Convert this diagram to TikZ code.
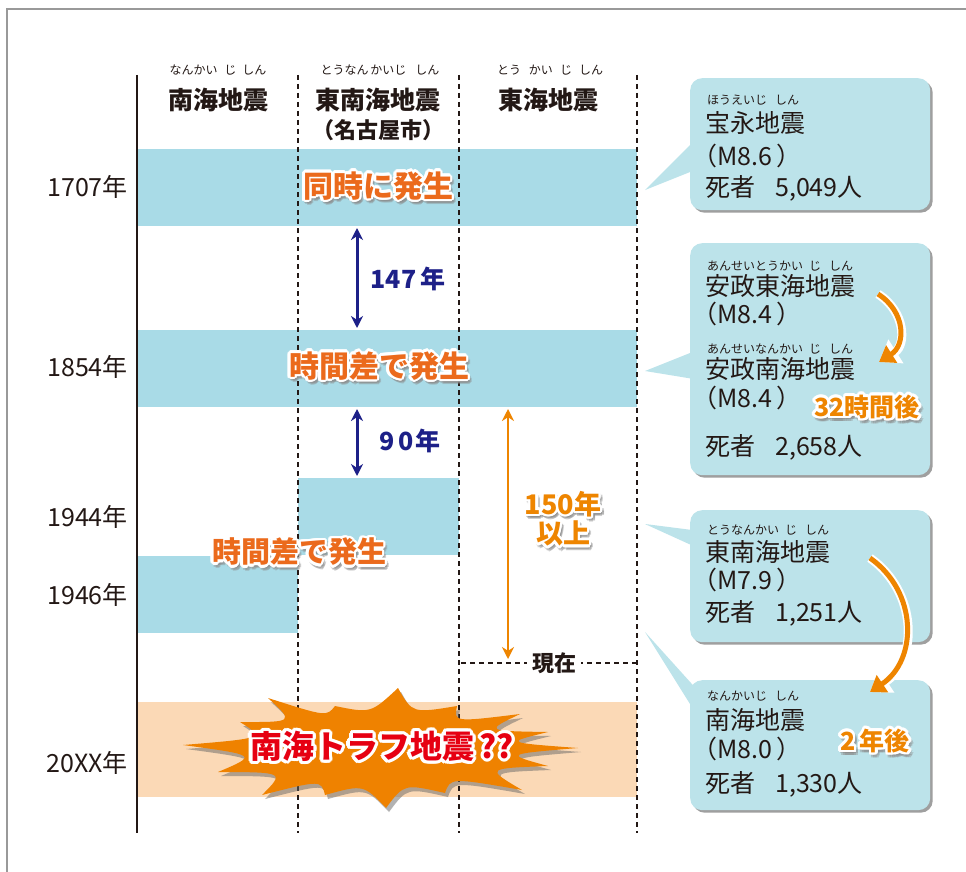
\documentclass[tikz,border=0pt]{standalone}
\usepackage{fontspec}
\setmainfont{Noto Sans CJK JP}
\usepackage{contour}
\contournumber{16}
\usetikzlibrary{arrows.meta,calc,shadows}
\definecolor{band}{HTML}{A9DBE7}
\definecolor{peach}{HTML}{FBD9B6}
\definecolor{callout}{HTML}{BCE3EA}
\definecolor{ink}{HTML}{231815}
\definecolor{navy}{HTML}{1D2088}
\definecolor{redor}{HTML}{EB6A1C}
\definecolor{yor}{HTML}{EE8500}
\definecolor{burstc}{HTML}{EF8200}
\definecolor{jred}{HTML}{E60012}
\definecolor{shgray}{HTML}{8C8C8C}
\newcommand{\fs}[1]{\fontsize{#1}{#1}\selectfont}
\begin{document}
\begin{tikzpicture}[x=1pt,y=-1pt,
  hd/.style={font=\fs{25}\bfseries, text=ink, inner sep=0},
  rb/.style={font=\fs{12}, text=ink, inner sep=0},
  yr/.style={font=\fs{25}, text=ink, anchor=east, inner sep=0},
  ct/.style={font=\fs{25}, text=ink, anchor=west, inner sep=0},
  cr/.style={font=\fs{12}, text=ink, anchor=west, inner sep=0},
  otx/.style={font=\fs{#1}\bfseries\contourlength{2.6pt}, inner sep=0, align=center},
  shd/.style={font=\fs{#1}\bfseries\contourlength{2.6pt}\contournumber{8}, inner sep=0, align=center, text=shgray, opacity=0.4},
  vdash/.style={ink, line width=2.2pt, dash pattern=on 5pt off 4pt},
  cbox/.style={fill=callout, rounded corners=12pt, minimum width=240pt, anchor=north west, inner sep=0,
     drop shadow={shadow xshift=2.5pt, shadow yshift=-2.5pt, opacity=0.5, fill=black!75}},
  ctail/.style={fill=callout},
  navyarr/.style={navy, line width=3pt, {Stealth[length=12pt,width=12pt]}-{Stealth[length=12pt,width=12pt]}},
  orarr/.style={yor, line width=2.8pt, {Stealth[length=12pt,width=12pt]}-{Stealth[length=12pt,width=12pt]}},
  cwhite/.style={white, line width=9pt, -{Triangle[width=27pt,length=20pt]}},
  corange/.style={yor, line width=5pt, -{Triangle[width=20pt,length=15pt]}}
]
\useasboundingbox (0,0) rectangle (966,872);
\fill[white] (0,0) rectangle (966,872);
% frame
\draw[black!40, line width=2.5pt] (7,1000) -- (7,9) -- (1000,9);

% bands
\fill[band] (137,149) rectangle (637,226);
\fill[band] (137,330) rectangle (637,407);
\fill[band] (298,478) rectangle (459,555);
\fill[band] (137,556) rectangle (298,633);
\fill[peach] (137,702) rectangle (637,797);

% axis lines
\draw[ink, line width=2.5pt] (137,75) -- (137,833);
\draw[vdash] (298,75) -- (298,833);
\draw[vdash] (459,75) -- (459,833);
\draw[vdash] (637,75) -- (637,833);

% headers
\node[rb] (r1) at (218,70) {なんかい\hspace{7pt}じ\hspace{6pt}しん};
\node[hd] (h1) at (218,100) {南海地震};
\node[rb] (r2) at (380,70) {とうなん\hspace{2pt}かいじ\hspace{9pt}しん};
\node[hd] (h2) at (378,100) {東南海地震};
\node[hd, font=\fs{22}\bfseries] (h2b) at (378,130) {（名古屋市）};
\node[rb] (r3) at (550,70) {とう\hspace{8pt}かい\hspace{7pt}じ\hspace{7pt}しん};
\node[hd] (h3) at (548,100) {東海地震};

% years
\node[yr] (y1) at (128,187) {1707年};
\node[yr] (y2) at (128,367) {1854年};
\node[yr] (y3) at (128,517) {1944年};
\node[yr] (y4) at (128,595) {1946年};
\node[yr] (y5) at (128,763) {20XX年};

% band texts
\node[shd=30] (s1) at (380,190) {\contour{shgray}{同時に発生}};
\node[otx=30, text=redor] (t1) at (378,187) {\contour{white}{同時に発生}};
\node[shd=30] (s2) at (381,370) {\contour{shgray}{時間差で発生}};
\node[otx=30, text=redor] (t2) at (379,367) {\contour{white}{時間差で発生}};
\node[shd=29] (s3) at (301,556) {\contour{shgray}{時間差で発生}};
\node[otx=29, text=redor] (t3) at (299,553) {\contour{white}{時間差で発生}};

% navy arrows
\coordinate (a1t) at (357,228);
\coordinate (a1b) at (357,328);
\coordinate (a2t) at (357,409);
\coordinate (a2b) at (357,476);
\draw[navyarr] (a1t) -- (a1b);
\draw[navyarr] (a2t) -- (a2b);
\node[font=\fs{25}\bfseries, text=navy, inner sep=0] (l147) at (408,279) {147\,年};
\node[font=\fs{25}\bfseries, text=navy, inner sep=0] (l90) at (410,441) {9\hspace{3pt}0\hspace{2pt}年};

% 150 arrow
\coordinate (o1t) at (508,409);
\coordinate (o1b) at (508,659);
\draw[orarr] (o1t) -- (o1b);
\node[shd=27] (s150) at (565,523) {\contour{shgray}{150年}\\[1pt]\contour{shgray}{以上}};
\node[otx=27, text=yor] (l150) at (563,520) {\contour{white}{150年}\\[1pt]\contour{white}{以上}};

% present line
\coordinate (gL) at (461,663);
\coordinate (gR) at (637,663);
\draw[ink, line width=1.8pt, dash pattern=on 5pt off 4pt] (gL) -- (gR);
\node[fill=white, inner xsep=5pt, inner ysep=1pt, font=\fs{22}\bfseries, text=ink] (gen) at (554,663) {現在};

% burst
\coordinate (bc) at (380,748);
\foreach \n/\x/\y in {1/183/745, 2/240/722, 3/268/698, 4/335/706, 5/398/688, 6/457/706, 7/520/714, 8/548/732, 9/578/748, 10/548/766, 11/522/790, 12/445/793, 13/386/808, 14/325/795, 15/262/795, 16/218/772}
  \coordinate (b\n) at (\x,\y);
\begin{scope}[transform canvas={xshift=3pt,yshift=-4pt}]
\fill[black!60, opacity=0.5] (b1) \foreach \i/\j in {1/2,2/3,3/4,4/5,5/6,6/7,7/8,8/9,9/10,10/11,11/12,12/13,13/14,14/15,15/16,16/1} { .. controls ($($(b\i)!0.5!(b\j)$)!0.32!(bc)$) .. (b\j) } -- cycle;
\end{scope}
\fill[burstc] (b1) \foreach \i/\j in {1/2,2/3,3/4,4/5,5/6,6/7,7/8,8/9,9/10,10/11,11/12,12/13,13/14,14/15,15/16,16/1} { .. controls ($($(b\i)!0.5!(b\j)$)!0.32!(bc)$) .. (b\j) } -- cycle;
\node[otx=32, text=jred, font=\fs{32}\bfseries\contourlength{3.2pt}] (nt) at (382,748) {\contour{white}{南海トラフ地震\,??}};

% callout 1
\node[cbox, minimum height=132pt] (c1) at (690,78) {};
\coordinate (p1) at (645,190);
\fill[ctail] (700,135) -- (p1) -- (700,168) -- cycle;
\node[cr] (c1r) at (707,100) {ほうえいじ\hspace{8pt}しん};
\node[ct] (c1a) at (705,123) {宝永地震};
\node[ct] (c1b) at (692,156) {（M8.6\hspace{4pt}）};
\node[ct] (c1c) at (705,188) {死者\hspace{20pt}5,049人};

% callout 2
\node[cbox, minimum height=232pt] (c2) at (690,243) {};
\coordinate (p2) at (645,371);
\fill[ctail] (700,349) -- (p2) -- (700,380) -- cycle;
\node[cr] (c2r) at (707,266) {あんせいとうかい\hspace{6pt}じ\hspace{8pt}しん};
\node[ct] (c2a) at (705,286) {安政東海地震};
\node[ct] (c2b) at (692,314) {（M8.4\hspace{4pt}）};
\node[cr] (c2r2) at (707,349) {あんせいなんかい\hspace{6pt}じ\hspace{8pt}しん};
\node[ct] (c2c) at (705,369) {安政南海地震};
\node[ct] (c2d) at (692,398) {（M8.4\hspace{4pt}）};
\node[ct] (c2e) at (705,447) {死者\hspace{20pt}2,658人};
\coordinate (q1s) at (878,294);
\coordinate (q1e) at (879,362);
\draw[cwhite] (q1s) .. controls (906,312) and (906,345) .. (q1e);
\draw[corange] (q1s) .. controls (906,312) and (906,345) .. (q1e);
\node[shd=25] (s32) at (869,411) {\contour{shgray}{32時間後}};
\node[otx=25, text=yor] (l32) at (867,408) {\contour{white}{32時間後}};

% callout 3
\node[cbox, minimum height=132pt] (c3) at (690,510) {};
\coordinate (p3) at (645,524);
\fill[ctail] (700,531) -- (p3) -- (700,549) -- cycle;
\node[cr] (c3r) at (707,530) {とうなんかい\hspace{6pt}じ\hspace{8pt}しん};
\node[ct] (c3a) at (705,552) {東南海地震};
\node[ct] (c3b) at (692,580) {（M7.9\hspace{4pt}）};
\node[ct] (c3c) at (705,613) {死者\hspace{20pt}1,251人};

% callout 4
\node[cbox, minimum height=130pt] (c4) at (690,680) {};
\coordinate (p4) at (645,632);
\fill[ctail] (700,693) -- (p4) -- (700,720) -- cycle;
\node[cr] (c4r) at (707,696) {なんかいじ\hspace{8pt}しん};
\node[ct] (c4a) at (705,720) {南海地震};
\node[ct] (c4b) at (692,749) {（M8.0\hspace{4pt}）};
\node[ct] (c4c) at (705,784) {死者\hspace{20pt}1,330人};
\coordinate (q2s) at (870,558);
\coordinate (q2e) at (870,692);
\draw[cwhite] (q2s) .. controls (918,592) and (918,660) .. (q2e);
\draw[corange] (q2s) .. controls (918,592) and (918,660) .. (q2e);
\node[shd=25] (s2y) at (877,745) {\contour{shgray}{2\,年後}};
\node[otx=25, text=yor] (l2y) at (875,742) {\contour{white}{2\,年後}};
\end{tikzpicture}
\end{document}
